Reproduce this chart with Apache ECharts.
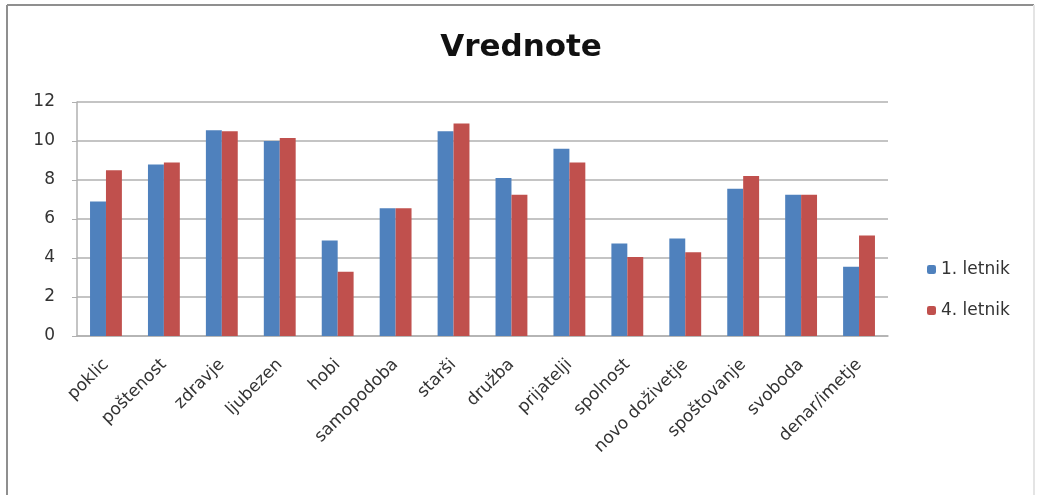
<!DOCTYPE html>
<html lang="sl">
<head>
    <meta charset="UTF-8">
    <title>Vrednote</title>
    <script src="https://cdn.jsdelivr.net/npm/echarts@6/dist/echarts.min.js"></script>
    <style>
        html, body { margin: 0; padding: 0; background: #fff; }
        #main { width: 1042px; height: 495px; }
    </style>
</head>
<body>
<div id="main"></div>
<script type="text/javascript">
    // podatki
    var kategorije = ['poklic', 'poštenost', 'zdravje', 'ljubezen', 'hobi', 'samopodoba', 'starši',
        'družba', 'prijatelji', 'spolnost', 'novo doživetje', 'spoštovanje', 'svoboda', 'denar/imetje'];
    var letnik1 = [6.9, 8.8, 10.55, 10.0, 4.9, 6.55, 10.5, 8.1, 9.6, 4.75, 5.0, 7.55, 7.25, 3.55];
    var letnik4 = [8.5, 8.9, 10.5, 10.15, 3.3, 6.55, 10.9, 7.25, 8.9, 4.05, 4.3, 8.2, 7.25, 5.15];
    var imena = ['1. letnik', '4. letnik'];

    var myChart = echarts.init(document.getElementById('main'));
    var font = 'DejaVu Sans';
    var option = {
        backgroundColor: '#fff',
        graphic: [
            { type: 'line', shape: { x1: 7, y1: 5, x2: 1034, y2: 5 }, style: { stroke: '#8f8f8f', lineWidth: 2 } },
            { type: 'line', shape: { x1: 7, y1: 5, x2: 7, y2: 495 }, style: { stroke: '#8f8f8f', lineWidth: 2 } },
            { type: 'line', shape: { x1: 1034, y1: 5, x2: 1034, y2: 495 }, style: { stroke: '#e4e4e4', lineWidth: 2 } }
        ],
        title: {
            text: 'Vrednote',
            left: 'center',
            top: 27,
            textStyle: { fontFamily: font, fontSize: 31, fontWeight: 'bold', color: '#111' }
        },
        legend: {
            orient: 'vertical',
            left: 922,
            top: 256,
            itemWidth: 9,
            itemHeight: 9,
            itemGap: 24,
            data: imena,
            textStyle: { fontFamily: font, fontSize: 17, color: '#333' }
        },
        grid: { left: 77, right: 154, top: 102, bottom: 159 },
        xAxis: {
            type: 'category',
            data: kategorije,
            axisLine: { lineStyle: { color: '#b0b0b0', width: 1.5 } },
            axisTick: { show: false },
            axisLabel: {
                rotate: 45,
                margin: 26,
                interval: 0,
                fontFamily: font,
                fontSize: 17,
                color: '#333'
            }
        },
        yAxis: {
            type: 'value',
            min: 0,
            max: 12,
            interval: 2,
            axisLine: { show: true, lineStyle: { color: '#b0b0b0', width: 1.5 } },
            axisTick: { show: true, length: 5, lineStyle: { color: '#b0b0b0' } },
            axisLabel: { margin: 22, fontFamily: font, fontSize: 17, color: '#333' },
            splitLine: { lineStyle: { color: '#b0b0b0', width: 1.5 } }
        },
        series: [
            {
                name: imena[0],
                type: 'bar',
                data: letnik1,
                barGap: '0%',
                barCategoryGap: '45%',
                itemStyle: { color: '#4F81BD' }
            },
            {
                name: imena[1],
                type: 'bar',
                data: letnik4,
                barGap: '0%',
                barCategoryGap: '45%',
                itemStyle: { color: '#C0504D' }
            }
        ]
    };
    myChart.setOption(option);
</script>
</body>
</html>
